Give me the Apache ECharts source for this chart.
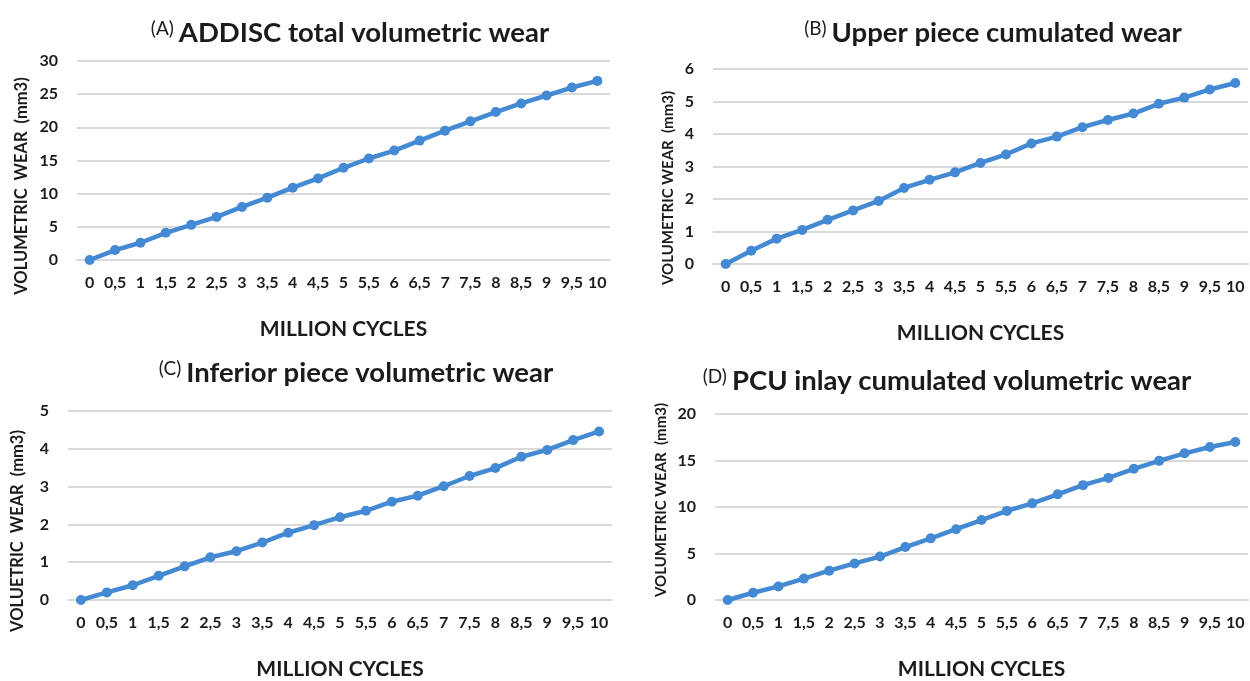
<!DOCTYPE html>
<html>
<head>
<meta charset="utf-8">
<script src="https://cdn.jsdelivr.net/npm/echarts@6/dist/echarts.min.js"></script>
<style>
html,body{margin:0;padding:0;background:#fff;}
#chart{width:1250px;height:681px;}
</style>
</head>
<body>
<div id="chart"></div>
<script>
const cycles = ['0','0,5','1','1,5','2','2,5','3','3,5','4','4,5','5','5,5','6','6,5','7','7,5','8','8,5','9','9,5','10'];
const totalWear    = [0, 1.5, 2.6, 4.1, 5.3, 6.5, 8.0, 9.4, 10.9, 12.3, 13.9, 15.3, 16.5, 18.0, 19.5, 20.9, 22.3, 23.6, 24.8, 26.0, 27.0];
const upperWear    = [0, 0.41, 0.78, 1.05, 1.36, 1.65, 1.94, 2.34, 2.59, 2.82, 3.11, 3.37, 3.71, 3.92, 4.21, 4.43, 4.63, 4.93, 5.12, 5.37, 5.57];
const inferiorWear = [0, 0.2, 0.39, 0.64, 0.89, 1.13, 1.29, 1.52, 1.78, 1.98, 2.19, 2.36, 2.6, 2.76, 3.01, 3.28, 3.49, 3.79, 3.97, 4.23, 4.46];
const pcuWear      = [0, 0.78, 1.46, 2.3, 3.15, 3.93, 4.67, 5.69, 6.63, 7.61, 8.6, 9.58, 10.39, 11.37, 12.35, 13.13, 14.11, 14.96, 15.77, 16.45, 16.99];

const panelLetters = ['(A)', '(B)', '(C)', '(D)'];
const panelTitles = ['ADDISC total volumetric wear', 'Upper piece cumulated wear', 'Inferior piece volumetric wear', 'PCU inlay cumulated volumetric wear'];
const yTitles = ['VOLUMETRIC  WEAR  (mm3)', 'VOLUMETRIC WEAR  (mm3)', 'VOLUETRIC  WEAR  (mm3)', 'VOLUMETRIC WEAR  (mm3)'];
const xTitle = 'MILLION CYCLES';
const yMax = [30, 6, 5, 20];
const yInterval = [5, 1, 1, 5];
const seriesData = [totalWear, upperWear, inferiorWear, pcuWear];

const FONT = 'Lato';
const TEXT = '#1b1b1b';
const BLUE = '#4389d3';

const grids = [
  {left: 77, top: 61, width: 533, height: 199},
  {left: 713, top: 69, width: 535, height: 195},
  {left: 68, top: 411, width: 544, height: 199},
  {left: 715, top: 414, width: 533, height: 197}
];
const titlePos = [
  {x: 345, y: 28}, {x: 988, y: 28}, {x: 351, y: 368}, {x: 942, y: 376}
];
const yTitlePos = [
  {x: 22, y: 186, size: 16.5}, {x: 668, y: 188, size: 15}, {x: 18, y: 531, size: 16.5}, {x: 661, y: 500, size: 15}
];

const chart = echarts.init(document.getElementById('chart'));
const option = {
  backgroundColor: '#ffffff',
  animation: false,
  title: panelTitles.map((t, i) => ({
    text: '{a|' + panelLetters[i] + '} {b|' + t + '}',
    left: titlePos[i].x,
    top: titlePos[i].y,
    textAlign: 'center',
    textVerticalAlign: 'middle',
    textStyle: {
      rich: {
        a: {fontFamily: FONT, fontSize: 19, fontWeight: 'normal', color: TEXT, verticalAlign: 'top', padding: [0, 0, 2, 0]},
        b: {fontFamily: FONT, fontSize: 27.5, fontWeight: 'bold', color: TEXT}
      }
    }
  })),
  grid: grids.map(g => Object.assign({containLabel: false}, g)),
  xAxis: grids.map((g, i) => ({
    type: 'category',
    gridIndex: i,
    data: cycles,
    boundaryGap: true,
    axisLine: {show: true, lineStyle: {color: '#d9d9d9', width: 2}},
    axisTick: {show: false},
    axisLabel: {interval: 0, fontFamily: FONT, fontWeight: 'bold', fontSize: 16, color: TEXT, margin: 15},
    name: xTitle,
    nameLocation: 'middle',
    nameGap: 59,
    nameTextStyle: {fontFamily: FONT, fontWeight: 'bold', fontSize: 21, color: TEXT}
  })),
  yAxis: grids.map((g, i) => ({
    type: 'value',
    gridIndex: i,
    min: 0,
    max: yMax[i],
    interval: yInterval[i],
    axisLine: {show: false},
    axisTick: {show: false},
    splitLine: {show: true, lineStyle: {color: '#d9d9d9', width: 2}},
    axisLabel: {fontFamily: FONT, fontWeight: 'bold', fontSize: 16, color: TEXT, margin: 19}
  })),
  graphic: yTitles.map((t, i) => ({
    type: 'text',
    x: yTitlePos[i].x,
    y: yTitlePos[i].y,
    rotation: Math.PI / 2,
    style: {
      text: t,
      fontFamily: FONT,
      fontWeight: 'bold',
      fontSize: yTitlePos[i].size,
      fill: TEXT,
      align: 'center',
      verticalAlign: 'middle'
    }
  })),
  series: seriesData.map((d, i) => ({
    type: 'line',
    xAxisIndex: i,
    yAxisIndex: i,
    data: d,
    symbol: 'circle',
    symbolSize: 10,
    lineStyle: {color: BLUE, width: 4.5},
    itemStyle: {color: BLUE}
  }))
};
chart.setOption(option);
</script>
</body>
</html>
